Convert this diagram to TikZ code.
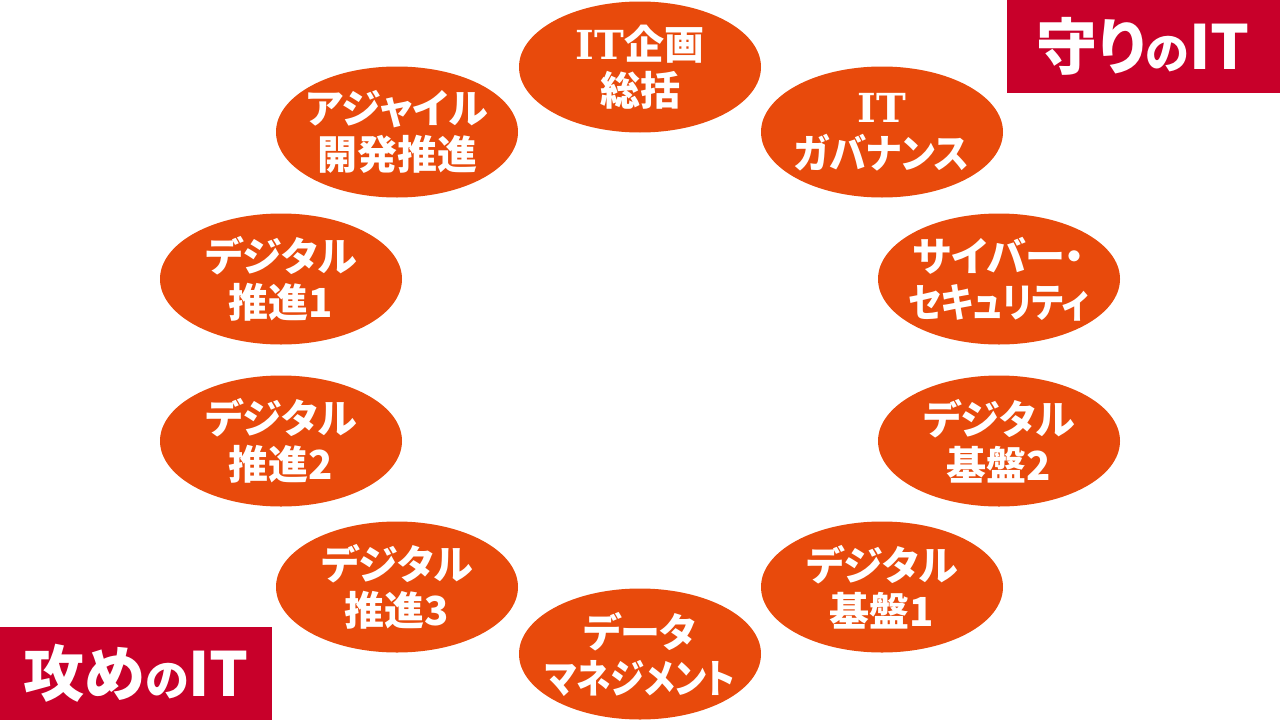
\documentclass[tikz,border=0pt]{standalone}
\usepackage{fontspec}
\usepackage{graphicx}
\setmainfont{Noto Sans CJK JP}[RawFeature=+palt]
\newfontfamily\serifit{DejaVu Serif}
\usetikzlibrary{shapes.geometric}
\definecolor{ellorange}{RGB}{232,74,12}
\definecolor{boxred}{RGB}{200,0,42}
\newcommand{\narrowtxt}[2]{\scalebox{#1}[1]{#2}}
\begin{document}
\begin{tikzpicture}[x=1pt,y=-1pt,
  ell/.style={ellipse, fill=ellorange, minimum width=242pt, minimum height=131pt, inner sep=0pt},
  lbl/.style={text=white, font=\fontsize{40}{46}\selectfont\bfseries, align=center, inner sep=0pt},
  tag/.style={fill=boxred, inner sep=0pt, text=white, font=\fontsize{61}{61}\selectfont\bfseries}]
\useasboundingbox (0,0) rectangle (1280,720);
\fill[white] (0,0) rectangle (1280,720);
\node[ell, label={[lbl]center:{{\serifit IT}企画\\総括}}] (e1) at (640,67) {};
\node[ell, label={[lbl]center:{{\serifit IT}\\\narrowtxt{0.93}{ガバナンス}}}] (e2) at (882,132) {};
\node[ell, label={[lbl]center:{サイバー・\\\narrowtxt{0.86}{セキュリティ}}}] (e3) at (999,279) {};
\node[ell, label={[lbl]center:{デジタル\\基盤2}}] (e4) at (999,441) {};
\node[ell, label={[lbl]center:{デジタル\\基盤1}}] (e5) at (882,587) {};
\node[ell, label={[lbl]center:{データ\\\narrowtxt{0.86}{マネジメント}}}] (e6) at (640,654) {};
\node[ell, label={[lbl]center:{デジタル\\推進3}}] (e7) at (397,587) {};
\node[ell, label={[lbl]center:{デジタル\\推進2}}] (e8) at (281,441) {};
\node[ell, label={[lbl]center:{デジタル\\推進1}}] (e9) at (281,279) {};
\node[ell, label={[lbl]center:{アジャイル\\開発推進}}] (e10) at (397,132) {};
\node[tag, minimum width=273pt, minimum height=93pt, anchor=north east] (mamori) at (1280,0) {守り\fontsize{44}{44}\selectfont の\fontsize{61}{61}\selectfont IT};
\node[tag, minimum width=272pt, minimum height=93pt, anchor=south west] (seme) at (0,720) {攻め\fontsize{44}{44}\selectfont の\fontsize{61}{61}\selectfont IT};
\end{tikzpicture}
\end{document}
